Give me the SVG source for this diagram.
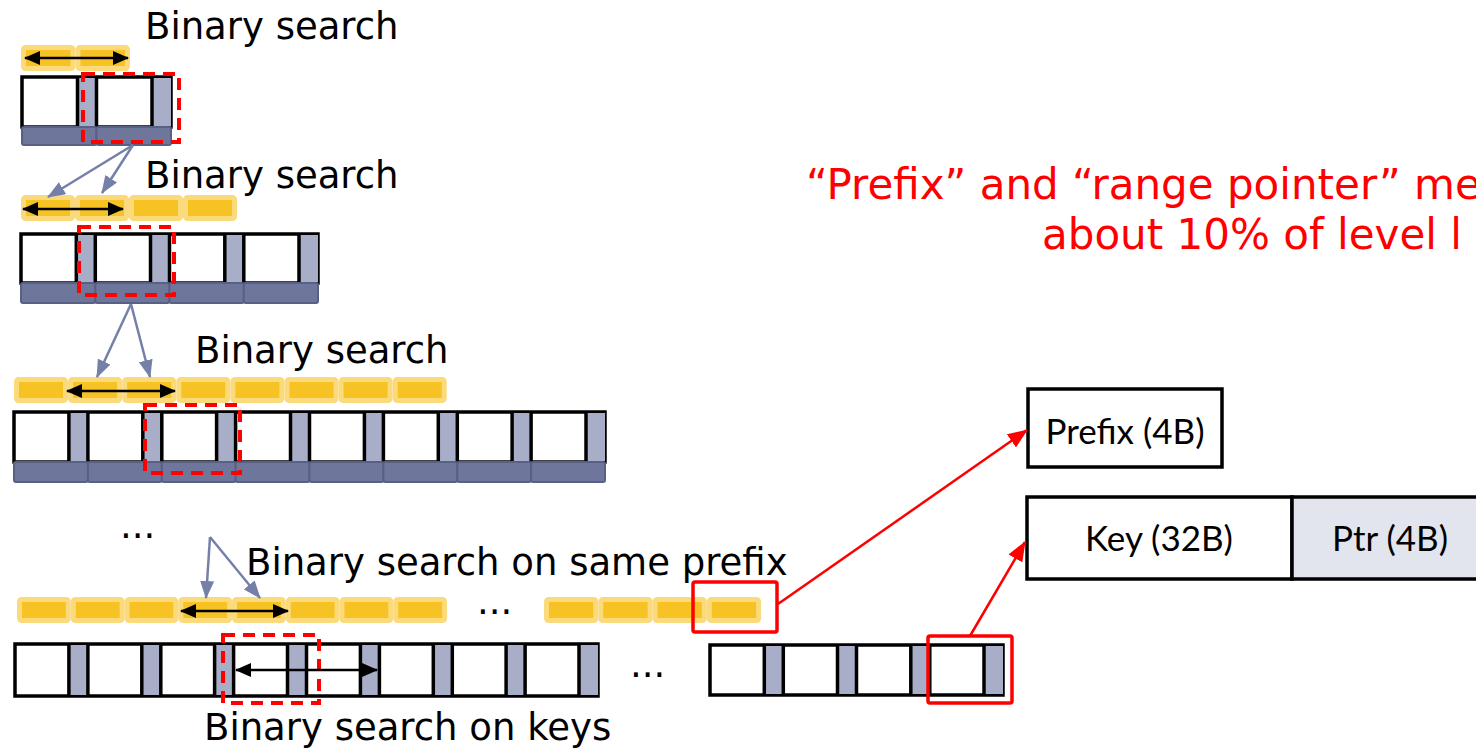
<svg xmlns="http://www.w3.org/2000/svg" width="1476" height="749" viewBox="0 0 1476 749">
  <style>
    .yc { fill: #F6C224; stroke: #FBDA7C; stroke-width: 5; }
    .cell { fill: #FFFFFF; stroke: #000000; stroke-width: 3.5; }
    .ptr { fill: #A9AEC8; }
    .sep { stroke: #000000; stroke-width: 3.5; }
    .bar { fill: #6E769B; stroke: #596085; stroke-width: 2; }
    .sel { fill: none; stroke: #FF0000; stroke-width: 4; stroke-dasharray: 12 8; }
    .hit { fill: none; stroke: #FF0000; stroke-width: 3.5; }
    .range { stroke: #000000; stroke-width: 2.5; marker-start: url(#headBlack); marker-end: url(#headBlack); }
    .hint { stroke: #7480A8; stroke-width: 2.5; marker-end: url(#headBlue); }
    .link { stroke: #FF0000; stroke-width: 2.5; marker-end: url(#headRed); }
    .lbl { font-family: "DejaVu Sans", Verdana, sans-serif; font-size: 37px; fill: #000000; }
    .note { font-family: "DejaVu Sans", Verdana, sans-serif; font-size: 42px; fill: #FF0000; }
    .field { font-family: Lato, "Open Sans", sans-serif; font-size: 35px; fill: #000000; text-anchor: middle; }
    .rec { fill: #FFFFFF; stroke: #000000; stroke-width: 3.5; }
  </style>
  <defs>
    <marker id="headBlack" markerUnits="userSpaceOnUse" markerWidth="16" markerHeight="14" refX="15" refY="7" orient="auto-start-reverse">
      <path d="M0,0 L16,7 L0,14 z" fill="#000000"/>
    </marker>
    <marker id="headBlue" markerUnits="userSpaceOnUse" markerWidth="18" markerHeight="14" refX="17" refY="7" orient="auto">
      <path d="M0,0 L18,7 L0,14 z" fill="#7480A8"/>
    </marker>
    <marker id="headRed" markerUnits="userSpaceOnUse" markerWidth="20" markerHeight="16" refX="19" refY="8" orient="auto">
      <path d="M0,0 L20,8 L0,16 z" fill="#FF0000"/>
    </marker>
  </defs>

  <rect width="1476" height="749" fill="#FFFFFF"/>

  <!-- Level 1: two-entry index -->
  <g id="level1">
    <g class="yc">
      <rect x="23.5" y="47.5" width="49.5" height="21" rx="2"/>
      <rect x="78" y="47.5" width="49.5" height="21" rx="2"/>
    </g>
    <rect class="cell" x="22" y="77" width="149" height="50"/>
    <rect class="ptr" x="77.5" y="78" width="19" height="48"/>
    <rect class="ptr" x="152" y="78" width="19" height="48"/>
    <g class="sep">
      <line x1="77.5" y1="77" x2="77.5" y2="127"/>
      <line x1="96.5" y1="77" x2="96.5" y2="127"/>
      <line x1="152" y1="77" x2="152" y2="127"/>
    </g>
    <rect class="bar" x="22" y="127" width="74.5" height="18" rx="2"/>
    <rect class="bar" x="96.5" y="127" width="74.5" height="18" rx="2"/>
    <rect class="sel" x="83" y="74" width="96" height="68"/>
    <text class="lbl" x="145" y="39">Binary search</text>
  </g>

  <!-- Level 2: four-entry index -->
  <g id="level2">
    <g class="yc">
      <rect x="23.5" y="197.5" width="49" height="21" rx="2"/>
      <rect x="77.5" y="197.5" width="49" height="21" rx="2"/>
      <rect x="131.5" y="197.5" width="49" height="21" rx="2"/>
      <rect x="185.5" y="197.5" width="49" height="21" rx="2"/>
    </g>
    <rect class="cell" x="21" y="234" width="297" height="49"/>
    <rect class="ptr" x="76.3" y="235" width="19" height="47"/>
    <rect class="ptr" x="150.5" y="235" width="19" height="47"/>
    <rect class="ptr" x="224.8" y="235" width="19" height="47"/>
    <rect class="ptr" x="299" y="235" width="19" height="47"/>
    <g class="sep">
      <line x1="76.3" y1="234" x2="76.3" y2="283"/>
      <line x1="95.3" y1="234" x2="95.3" y2="283"/>
      <line x1="150.5" y1="234" x2="150.5" y2="283"/>
      <line x1="169.5" y1="234" x2="169.5" y2="283"/>
      <line x1="224.8" y1="234" x2="224.8" y2="283"/>
      <line x1="243.8" y1="234" x2="243.8" y2="283"/>
      <line x1="299" y1="234" x2="299" y2="283"/>
    </g>
    <rect class="bar" x="21" y="283" width="74.3" height="20" rx="2"/>
    <rect class="bar" x="95.3" y="283" width="74.2" height="20" rx="2"/>
    <rect class="bar" x="169.5" y="283" width="74.3" height="20" rx="2"/>
    <rect class="bar" x="243.8" y="283" width="74.2" height="20" rx="2"/>
    <rect class="sel" x="79" y="227" width="95" height="68"/>
    <text class="lbl" x="145" y="188">Binary search</text>
  </g>

  <!-- Level 3: eight-entry index -->
  <g id="level3">
    <g class="yc">
      <rect x="16.5" y="379.5" width="49" height="21" rx="2"/>
      <rect x="70.6" y="379.5" width="49" height="21" rx="2"/>
      <rect x="124.7" y="379.5" width="49" height="21" rx="2"/>
      <rect x="178.8" y="379.5" width="49" height="21" rx="2"/>
      <rect x="232.9" y="379.5" width="49" height="21" rx="2"/>
      <rect x="287" y="379.5" width="49" height="21" rx="2"/>
      <rect x="341.1" y="379.5" width="49" height="21" rx="2"/>
      <rect x="395.2" y="379.5" width="49" height="21" rx="2"/>
    </g>
    <rect class="cell" x="14" y="412" width="591" height="50"/>
    <rect class="ptr" x="68.9" y="413" width="19" height="48"/>
    <rect class="ptr" x="142.8" y="413" width="19" height="48"/>
    <rect class="ptr" x="216.6" y="413" width="19" height="48"/>
    <rect class="ptr" x="290.5" y="413" width="19" height="48"/>
    <rect class="ptr" x="364.4" y="413" width="19" height="48"/>
    <rect class="ptr" x="438.3" y="413" width="19" height="48"/>
    <rect class="ptr" x="512.1" y="413" width="19" height="48"/>
    <rect class="ptr" x="586" y="413" width="19" height="48"/>
    <g class="sep">
      <line x1="68.9" y1="412" x2="68.9" y2="462"/>
      <line x1="87.9" y1="412" x2="87.9" y2="462"/>
      <line x1="142.8" y1="412" x2="142.8" y2="462"/>
      <line x1="161.8" y1="412" x2="161.8" y2="462"/>
      <line x1="216.6" y1="412" x2="216.6" y2="462"/>
      <line x1="235.6" y1="412" x2="235.6" y2="462"/>
      <line x1="290.5" y1="412" x2="290.5" y2="462"/>
      <line x1="309.5" y1="412" x2="309.5" y2="462"/>
      <line x1="364.4" y1="412" x2="364.4" y2="462"/>
      <line x1="383.4" y1="412" x2="383.4" y2="462"/>
      <line x1="438.3" y1="412" x2="438.3" y2="462"/>
      <line x1="457.3" y1="412" x2="457.3" y2="462"/>
      <line x1="512.1" y1="412" x2="512.1" y2="462"/>
      <line x1="531.1" y1="412" x2="531.1" y2="462"/>
      <line x1="586" y1="412" x2="586" y2="462"/>
    </g>
    <rect class="bar" x="14" y="462" width="73.9" height="20" rx="2"/>
    <rect class="bar" x="87.9" y="462" width="73.9" height="20" rx="2"/>
    <rect class="bar" x="161.8" y="462" width="73.8" height="20" rx="2"/>
    <rect class="bar" x="235.6" y="462" width="73.9" height="20" rx="2"/>
    <rect class="bar" x="309.5" y="462" width="73.9" height="20" rx="2"/>
    <rect class="bar" x="383.4" y="462" width="73.9" height="20" rx="2"/>
    <rect class="bar" x="457.3" y="462" width="73.8" height="20" rx="2"/>
    <rect class="bar" x="531.1" y="462" width="73.9" height="20" rx="2"/>
    <rect class="sel" x="145" y="405" width="95" height="68"/>
    <text class="lbl" x="195" y="363">Binary search</text>
    <text class="lbl" x="120" y="538">...</text>
  </g>

  <!-- Last level: prefixes and keys -->
  <g id="lastLevel">
    <g class="yc">
      <rect x="19.5" y="599.5" width="48.8" height="21" rx="2"/>
      <rect x="73.3" y="599.5" width="48.8" height="21" rx="2"/>
      <rect x="127" y="599.5" width="48.8" height="21" rx="2"/>
      <rect x="180.8" y="599.5" width="48.8" height="21" rx="2"/>
      <rect x="234.5" y="599.5" width="48.8" height="21" rx="2"/>
      <rect x="288.3" y="599.5" width="48.8" height="21" rx="2"/>
      <rect x="342" y="599.5" width="48.8" height="21" rx="2"/>
      <rect x="395.8" y="599.5" width="48.8" height="21" rx="2"/>
      <rect x="546.5" y="599.5" width="49.3" height="21" rx="2"/>
      <rect x="600.8" y="599.5" width="49.3" height="21" rx="2"/>
      <rect x="655" y="599.5" width="49.3" height="21" rx="2"/>
      <rect x="709.3" y="599.5" width="49.3" height="21" rx="2"/>
    </g>
    <text class="lbl" x="477" y="614">...</text>

    <rect class="cell" x="15" y="644" width="583" height="52"/>
    <rect class="ptr" x="68.9" y="645" width="19" height="50"/>
    <rect class="ptr" x="141.8" y="645" width="19" height="50"/>
    <rect class="ptr" x="214.6" y="645" width="19" height="50"/>
    <rect class="ptr" x="287.5" y="645" width="19" height="50"/>
    <rect class="ptr" x="360.4" y="645" width="19" height="50"/>
    <rect class="ptr" x="433.3" y="645" width="19" height="50"/>
    <rect class="ptr" x="506.1" y="645" width="19" height="50"/>
    <rect class="ptr" x="579" y="645" width="19" height="50"/>
    <g class="sep">
      <line x1="68.9" y1="644" x2="68.9" y2="696"/>
      <line x1="87.9" y1="644" x2="87.9" y2="696"/>
      <line x1="141.8" y1="644" x2="141.8" y2="696"/>
      <line x1="160.8" y1="644" x2="160.8" y2="696"/>
      <line x1="214.6" y1="644" x2="214.6" y2="696"/>
      <line x1="233.6" y1="644" x2="233.6" y2="696"/>
      <line x1="287.5" y1="644" x2="287.5" y2="696"/>
      <line x1="306.5" y1="644" x2="306.5" y2="696"/>
      <line x1="360.4" y1="644" x2="360.4" y2="696"/>
      <line x1="379.4" y1="644" x2="379.4" y2="696"/>
      <line x1="433.3" y1="644" x2="433.3" y2="696"/>
      <line x1="452.3" y1="644" x2="452.3" y2="696"/>
      <line x1="506.1" y1="644" x2="506.1" y2="696"/>
      <line x1="525.1" y1="644" x2="525.1" y2="696"/>
      <line x1="579" y1="644" x2="579" y2="696"/>
    </g>
    <text class="lbl" x="630" y="677">...</text>

    <rect class="cell" x="710" y="645" width="293" height="50"/>
    <rect class="ptr" x="764.3" y="646" width="19" height="48"/>
    <rect class="ptr" x="837.5" y="646" width="19" height="48"/>
    <rect class="ptr" x="910.8" y="646" width="19" height="48"/>
    <rect class="ptr" x="984" y="646" width="19" height="48"/>
    <g class="sep">
      <line x1="764.3" y1="645" x2="764.3" y2="695"/>
      <line x1="783.3" y1="645" x2="783.3" y2="695"/>
      <line x1="837.5" y1="645" x2="837.5" y2="695"/>
      <line x1="856.5" y1="645" x2="856.5" y2="695"/>
      <line x1="910.8" y1="645" x2="910.8" y2="695"/>
      <line x1="929.8" y1="645" x2="929.8" y2="695"/>
      <line x1="984" y1="645" x2="984" y2="695"/>
    </g>

    <rect class="sel" x="223" y="635" width="96" height="68"/>
    <rect class="hit" x="693" y="582" width="84" height="50" rx="2"/>
    <rect class="hit" x="928" y="636" width="84" height="67" rx="2"/>
    <text class="lbl" x="246" y="575">Binary search on same prefix</text>
    <text class="lbl" x="204" y="740">Binary search on keys</text>
  </g>

  <!-- Entry layouts -->
  <g id="prefixEntry">
    <rect class="rec" x="1028" y="389" width="194" height="78"/>
    <text class="field" x="1125" y="444">Prefix (4B)</text>
  </g>
  <g id="keyEntry">
    <rect class="rec" x="1027" y="497" width="265" height="82"/>
    <rect class="rec" x="1292" y="497" width="210" height="82" style="fill:#E2E5ED"/>
    <text class="field" x="1159" y="551">Key (32B)</text>
    <text class="field" x="1390" y="551">Ptr (4B)</text>
  </g>

  <!-- Memory note, running off the right edge -->
  <g id="note">
    <text class="note" x="806" y="199">“Prefix” and “range pointer” me</text>
    <text class="note" x="1042" y="249">about 10% of level l</text>
  </g>

  <!-- Connectors -->
  <g id="connectors">
    <line class="range" x1="25" y1="58" x2="128" y2="58"/>
    <line class="range" x1="23" y1="209" x2="123" y2="209"/>
    <line class="range" x1="67" y1="391" x2="175" y2="391"/>
    <line class="range" x1="181" y1="611" x2="288" y2="611"/>
    <line class="range" x1="236" y1="670" x2="377" y2="670"/>

    <line class="hint" x1="133" y1="145" x2="48" y2="197"/>
    <line class="hint" x1="133" y1="145" x2="102" y2="193"/>
    <line class="hint" x1="131" y1="304" x2="97" y2="377"/>
    <line class="hint" x1="131" y1="304" x2="150" y2="377"/>
    <line class="hint" x1="210" y1="537" x2="206" y2="598"/>
    <line class="hint" x1="210" y1="537" x2="260" y2="598"/>

    <line class="link" x1="778" y1="604" x2="1027" y2="430"/>
    <line class="link" x1="970" y1="636" x2="1025" y2="542"/>
  </g>
</svg>
